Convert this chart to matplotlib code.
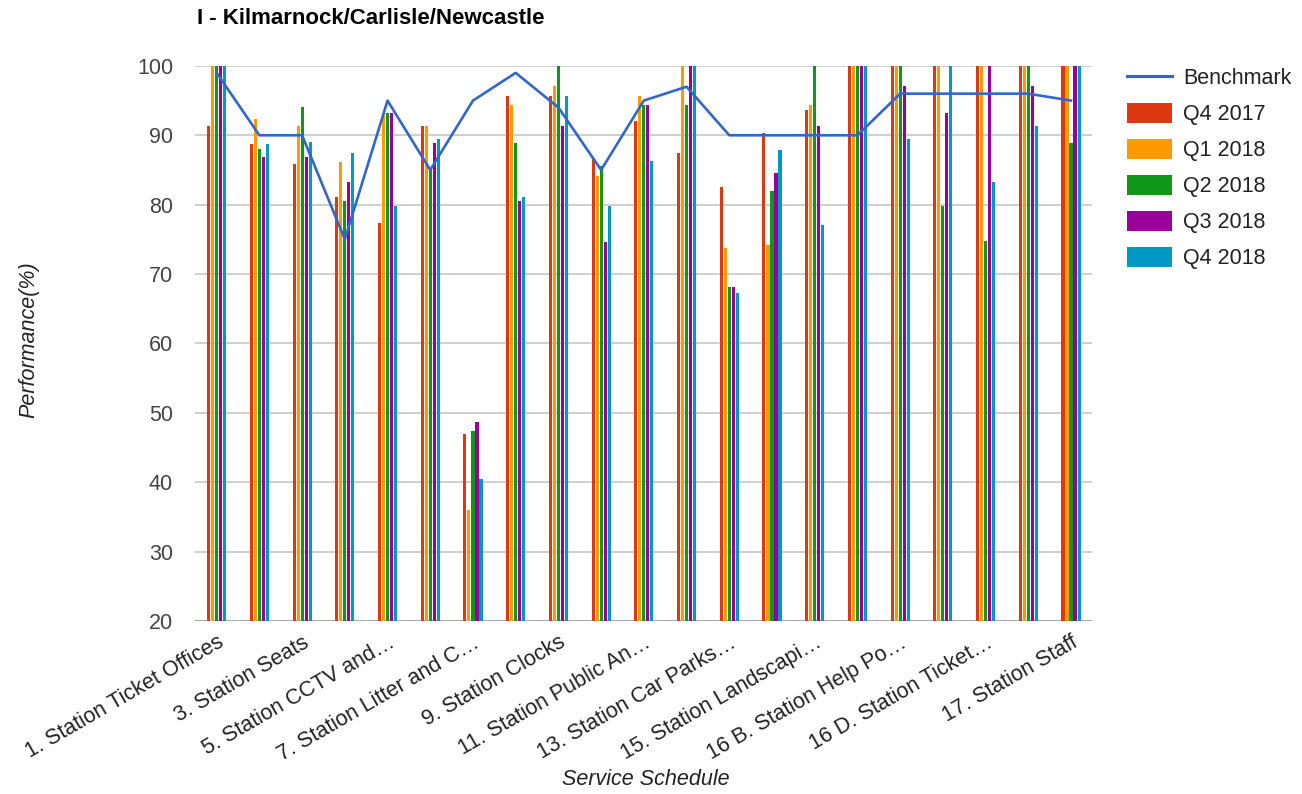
import numpy as np
import matplotlib
matplotlib.use("Agg")
import matplotlib.pyplot as plt
from matplotlib.lines import Line2D
from matplotlib.patches import Patch

plt.rcParams["font.family"] = ["Liberation Sans", "DejaVu Sans"]

# ── data ──────────────────────────────────────────────────────────────────────
categories = [
    "1. Station Ticket Offices", "2. Station Waiting Areas", "3. Station Seats",
    "4. Station Toilets", "5. Station CCTV and…", "6. Station Lighting",
    "7. Station Litter and C…", "8. Station Signage", "9. Station Clocks",
    "10. Station Information…", "11. Station Public An…", "12. Station Shelters",
    "13. Station Car Parks…", "14. Station Cycle Parks", "15. Station Landscapi…",
    "16 A. Station Help Po…", "16 B. Station Help Po…", "16 C. Station Ticket…",
    "16 D. Station Ticket…", "16 E. Station Ticket…", "17. Station Staff",
]

benchmark = [99, 90, 90, 75, 95, 85, 95, 99, 94, 85, 95,
             97, 90, 90, 90, 90, 96, 96, 96, 96, 95]

q4_2017 = [91.4, 88.7, 85.9, 81.1, 77.4, 91.4, 47.0, 95.7, 95.7, 86.7, 92.0,
           87.4, 82.6, 90.4, 93.6, 100, 100, 100, 100, 100, 100]
q1_2018 = [100, 92.3, 91.3, 86.1, 93.2, 91.4, 36.0, 94.3, 97.1, 84.1, 95.7,
           100, 73.8, 74.2, 94.3, 100, 100, 100, 100, 100, 100]
q2_2018 = [100, 88.0, 94.1, 80.5, 93.2, 85.0, 47.4, 88.9, 100, 85.5, 94.3,
           94.3, 68.1, 82.0, 100, 100, 100, 79.8, 74.8, 100, 88.9]
q3_2018 = [100, 86.9, 86.9, 83.3, 93.2, 88.9, 48.7, 80.5, 91.4, 74.6, 94.3,
           100, 68.1, 84.5, 91.4, 100, 97.1, 93.2, 100, 97.1, 100]
q4_2018 = [100, 88.7, 89.1, 87.4, 79.8, 89.5, 40.4, 81.1, 95.7, 79.8, 86.3,
           100, 67.3, 87.9, 77.0, 100, 89.5, 100, 83.3, 91.4, 100]

series_names = ["Q4 2017", "Q1 2018", "Q2 2018", "Q3 2018", "Q4 2018"]
series_values = [q4_2017, q1_2018, q2_2018, q3_2018, q4_2018]
series_colours = ["#dc3912", "#ff9900", "#109618", "#990099", "#0099c6"]
line_colour = "#3366cc"

y_ticks = [20, 30, 40, 50, 60, 70, 80, 90, 100]

FS = 15.5

# ── plot ──────────────────────────────────────────────────────────────────────
fig = plt.figure(figsize=(13.02, 7.94), dpi=100)
ax = fig.add_axes([0.150, 0.218, 0.689, 0.699])

x = np.arange(len(categories))
slot = 0.094
bar_w = 0.072
for i, (name, vals, col) in enumerate(zip(series_names, series_values, series_colours)):
    offset = (i - 2) * slot
    ax.bar(x + offset, np.array(vals) - 20, bottom=20, width=bar_w,
           color=col, zorder=2)

ax.plot(x, benchmark, color=line_colour, linewidth=1.9, zorder=3)

ax.set_xlim(-0.5, len(categories) - 0.5)
ax.set_ylim(20, 100)
ax.set_yticks(y_ticks)
ax.set_yticklabels([str(t) for t in y_ticks], fontsize=FS, color="#444444")
ax.yaxis.grid(True, color="#cccccc", linewidth=1.3, zorder=0)
ax.set_axisbelow(True)
ax.axhline(20, color="#aaaaaa", linewidth=1.5, zorder=1)

ax.set_xticks(x[::2])
ax.set_xticklabels(categories[::2], rotation=30, ha="right",
                   rotation_mode="anchor", fontsize=FS, color="#222222")
ax.tick_params(axis="both", length=0)
ax.tick_params(axis="y", pad=16)
ax.tick_params(axis="x", pad=8)
for s in ax.spines.values():
    s.set_visible(False)

fig.text(0.496, 0.018, "Service Schedule", fontsize=FS, style="italic",
         color="#222222", ha="center", va="center")
fig.text(0.022, 0.572, "Performance(%)", fontsize=FS, style="italic",
         color="#222222", ha="center", va="center", rotation=90)

fig.text(0.151, 0.977, "I - Kilmarnock/Carlisle/Newcastle", fontsize=16,
         fontweight="bold", ha="left", va="center")

handles = [Line2D([0], [0], color=line_colour, linewidth=2.2)]
handles += [Patch(facecolor=c, edgecolor="none") for c in series_colours]
labels = ["Benchmark"] + series_names
fig.legend(handles, labels, loc="upper left", bbox_to_anchor=(0.854, 0.934),
           frameon=False, fontsize=FS, handlelength=2.1, handleheight=1.0,
           handletextpad=0.5, labelspacing=0.65, borderpad=0.2,
           labelcolor="#222222")

fig.savefig("out.png", dpi=100)
